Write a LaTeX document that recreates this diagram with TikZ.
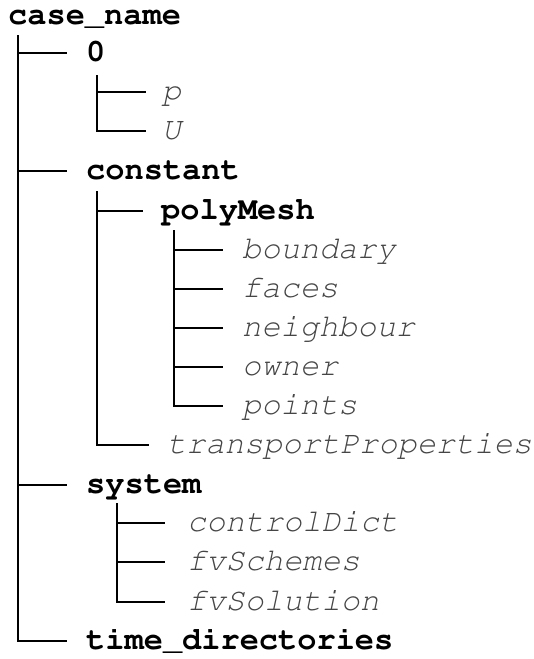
\documentclass[tikz,border=0pt]{standalone}
\usepackage[T1]{fontenc}
\usepackage{courier}
\definecolor{filegray}{gray}{0.27}

\begin{document}
\begin{tikzpicture}[x=1pt, y=-1pt,
  every node/.style={inner sep=0pt, anchor=west, text height=20pt, text depth=4pt},
  folder/.style={font=\fontsize{32}{38}\selectfont\ttfamily\bfseries},
  leaf/.style={font=\fontsize{32}{38}\selectfont\ttfamily\itshape, text=filegray},
  branch/.style={line width=2.6pt}
]
\useasboundingbox (0,0) rectangle (534,659);

% directories and files
\node[folder] (root) at (8,16) {case\_name};
\node[folder] (zero) at (86,53) {0};
\node[leaf] (p) at (162,92) {p};
\node[leaf] (U) at (162,131) {U};
\node[folder] (constant) at (86,171) {constant};
\node[folder] (polyMesh) at (161,211) {polyMesh};
\node[leaf] (boundary) at (242,250) {boundary};
\node[leaf] (faces) at (242,289) {faces};
\node[leaf] (neighbour) at (242,328) {neighbour};
\node[leaf] (owner) at (242,367) {owner};
\node[leaf] (points) at (242,406) {points};
\node[leaf] (transport) at (167,445) {transportProperties};
\node[folder] (system) at (86,485) {system};
\node[leaf] (controlDict) at (187,523) {controlDict};
\node[leaf] (fvSchemes) at (187,562) {fvSchemes};
\node[leaf] (fvSolution) at (187,602) {fvSolution};
\node[folder] (timedirs) at (86,641) {time\_directories};

% trunk tops
\coordinate (t-root) at (18,35);
\coordinate (t-zero) at (97,75);
\coordinate (t-constant) at (97,191);
\coordinate (t-polyMesh) at (174,230);
\coordinate (t-system) at (117,503);

% branches
\foreach \n in {zero,constant,system,timedirs}
  \draw[branch] (t-root) |- ([xshift=-19pt]\n.west);
\foreach \n in {p,U}
  \draw[branch] (t-zero) |- ([xshift=-16pt]\n.west);
\foreach \n in {polyMesh,transport}
  \draw[branch] (t-constant) |- ([xshift=-18pt]\n.west);
\foreach \n in {boundary,faces,neighbour,owner,points}
  \draw[branch] (t-polyMesh) |- ([xshift=-19pt]\n.west);
\foreach \n in {controlDict,fvSchemes,fvSolution}
  \draw[branch] (t-system) |- ([xshift=-22pt]\n.west);
\end{tikzpicture}
\end{document}
